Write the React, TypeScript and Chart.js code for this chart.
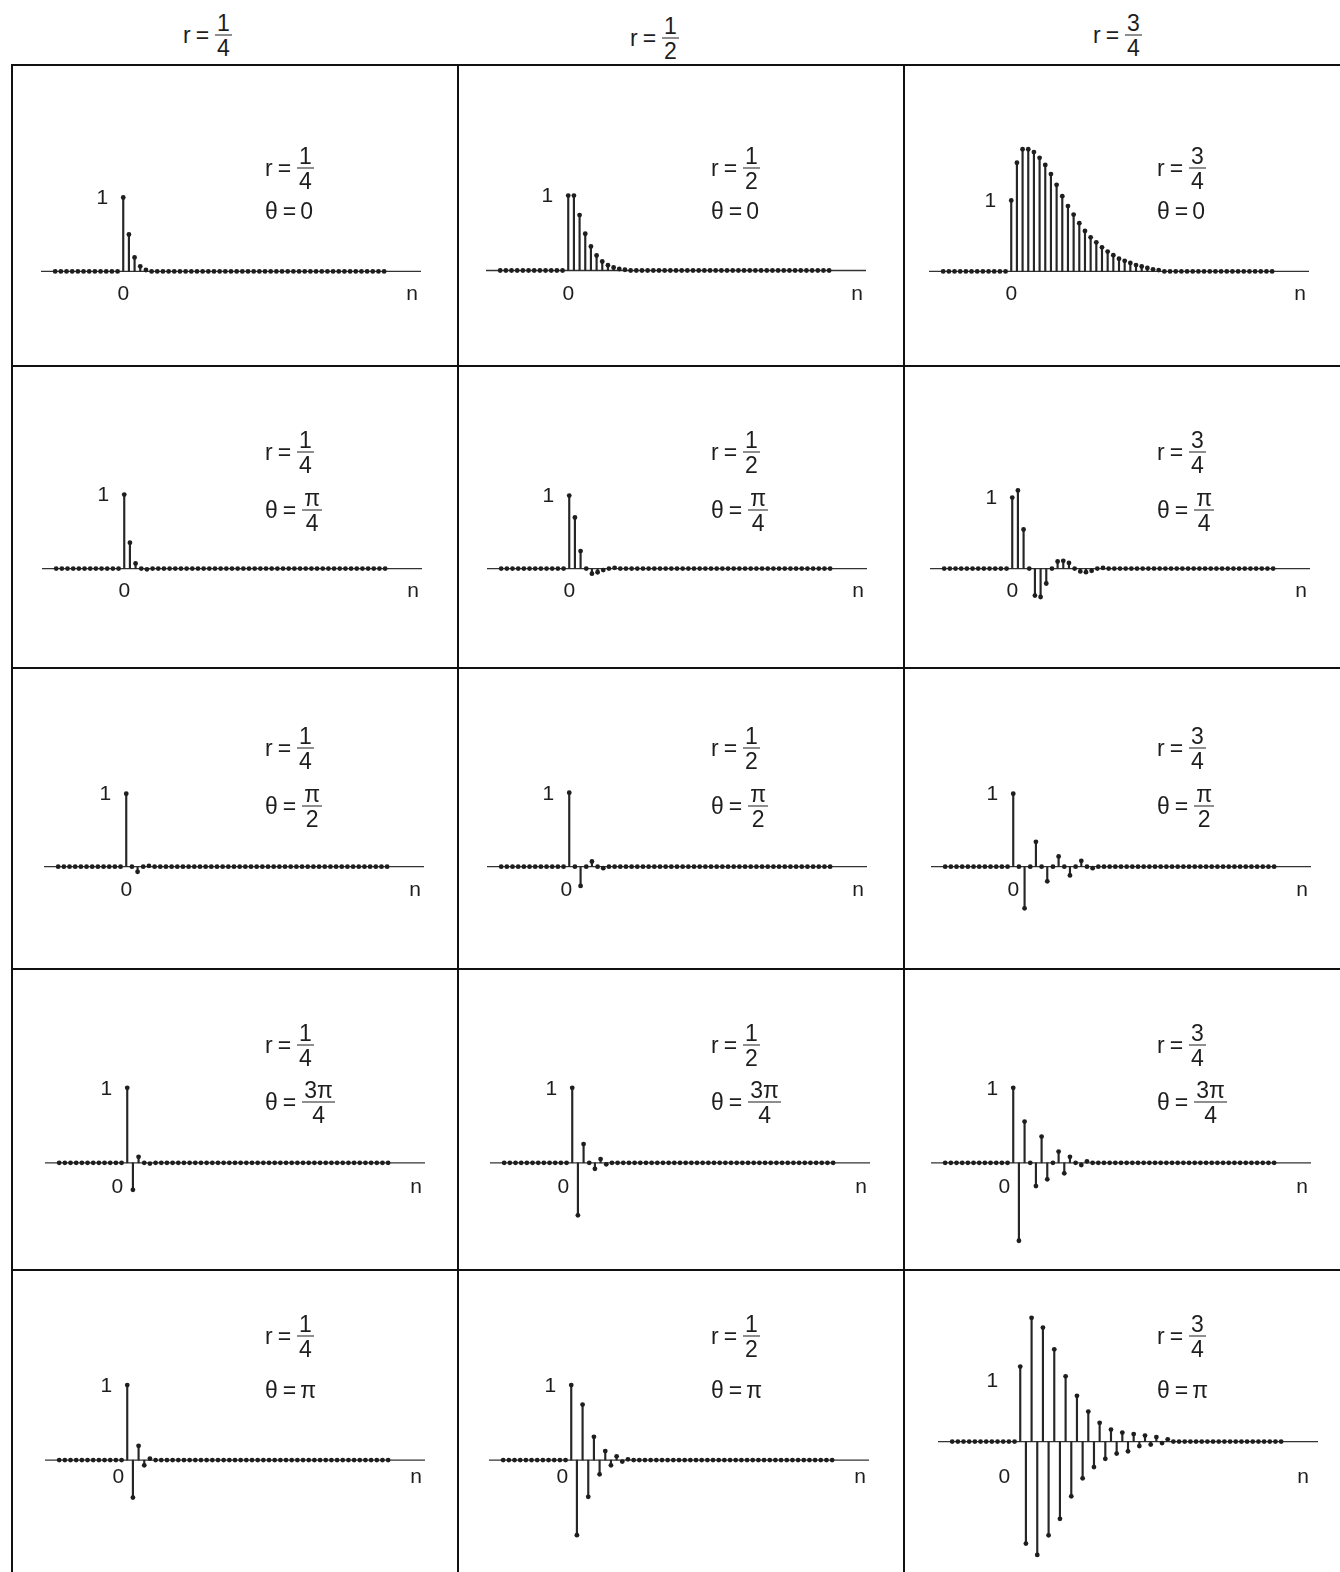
import React, { useEffect, useRef } from "react";
import { Chart, registerables } from "chart.js";

Chart.register(...registerables);

// Sample index range shown on every panel, and the extent of the drawn n-axis.
const N_FIRST = -12;
const N_LAST = 46;
const AXIS_FROM = -14.5;
const AXIS_TO = 52.5;

// Column parameters (pole radius) and row parameters (pole angle).
const R_FRACTIONS: [string, string][] = [["1", "4"], ["1", "2"], ["3", "4"]];
const THETA_LABELS: (string | [string, string])[] = ["0", ["π", "4"], ["π", "2"], ["3π", "4"], "π"];

// h[n] for n = 0, 1, 2, ... ; samples beyond the list are zero.
// r = 1/4
const r14_t0 = [1, 0.5, 0.19, 0.07, 0.02];
const r14_t1 = [1, 0.35, 0.07, 0, -0.01];
const r14_t2 = [1, 0, -0.07, 0, 0.01];
const r14_t3 = [1, -0.36, 0.08, 0, -0.01];
const r14_t4 = [1, -0.5, 0.19, -0.07, 0.02];
// r = 1/2
const r12_t0 = [1, 1, 0.74, 0.49, 0.32, 0.2, 0.12, 0.07, 0.04, 0.02, 0.01];
const r12_t1 = [1, 0.7, 0.24, 0, -0.07, -0.05, -0.02, 0, 0.01];
const r12_t2 = [1, 0, -0.26, 0, 0.07, 0, -0.02];
const r12_t3 = [1, -0.7, 0.25, 0, -0.08, 0.05, -0.02];
const r12_t4 = [1, -1, 0.74, -0.49, 0.31, -0.19, 0.12, -0.07, 0.05, -0.02, 0.01];
// r = 3/4
const r34_t0 = [1, 1.53, 1.72, 1.72, 1.68, 1.6, 1.5, 1.37, 1.22, 1.06, 0.92, 0.8, 0.68, 0.57, 0.48, 0.41, 0.34, 0.28, 0.23, 0.18, 0.15, 0.12, 0.09, 0.07, 0.05, 0.03, 0.02];
const r34_t1 = [1, 1.1, 0.55, 0, -0.38, -0.4, -0.21, 0, 0.1, 0.11, 0.08, 0, -0.04, -0.05, -0.03, 0, 0.01];
const r34_t2 = [1, 0, -0.57, 0, 0.34, 0, -0.2, 0, 0.14, 0, -0.12, 0, 0.08, 0, -0.02];
const r34_t3 = [1, -1.04, 0.55, 0, -0.31, 0.35, -0.22, 0, 0.15, -0.14, 0.08, 0, -0.03, 0.02];
const r34_t4 = [1, -1.36, 1.65, -1.51, 1.52, -1.25, 1.23, -1.03, 0.87, -0.73, 0.61, -0.49, 0.4, -0.34, 0.25, -0.23, 0.16, -0.16, 0.12, -0.13, 0.1, -0.06, 0.08, -0.04, 0.06, -0.02, 0.03];

// rows: θ = 0, π/4, π/2, 3π/4, π ; columns: r = 1/4, 1/2, 3/4
const SERIES = [
  [r14_t0, r12_t0, r34_t0],
  [r14_t1, r12_t1, r34_t1],
  [r14_t2, r12_t2, r34_t2],
  [r14_t3, r12_t3, r34_t3],
  [r14_t4, r12_t4, r34_t4],
];

// ---- page geometry ----
const PAGE_W = 1340;
const PAGE_H = 1572;
const COL_X = [12, 458, 904, PAGE_W];
const ROW_Y = [65, 366, 668, 969, 1270, PAGE_H + 10];
const AXIS_PX = 380;
const AXIS_LEFT = [
  [41, 486, 929],
  [42, 487, 930],
  [44, 487, 931],
  [45, 490, 931],
  [45, 489, 938],
];
const AXIS_Y = [
  [273, 272, 273],
  [570, 570, 570],
  [868, 868, 868],
  [1164, 1164, 1164],
  [1461, 1461, 1442],
];
const UNIT_PX = [
  [76, 77, 73],
  [76, 75, 73],
  [75, 76, 75],
  [77, 77, 77],
  [77, 77, 77],
];
const ZERO_DX = [
  [0, 0, 0],
  [0, 0, 0],
  [0, -3, 0],
  [-10, -9, -9],
  [-9, -9, -16],
];
const BASE_LABEL_Y = [294, 591, 890, 1187, 1477];
const R_NOTE_Y = [168, 452, 748, 1045, 1336];
const T_NOTE_Y = [211, 510, 806, 1102, 1390];
const HEADER_POS = [
  [183, 35],
  [630, 38],
  [1093, 35],
];

const FONT = '"Liberation Sans", Arial, Helvetica, sans-serif';
const INK = "#1e1e1e";

function Frac({ num, den, size }: { num: string; den: string; size: number }) {
  return (
    <span
      style={{
        display: "inline-flex",
        flexDirection: "column",
        alignItems: "center",
        marginLeft: 2,
      }}
    >
      <span style={{ lineHeight: `${size - 1}px`, padding: "0 2px 1px" }}>{num}</span>
      <span
        style={{
          lineHeight: `${size - 1}px`,
          borderTop: `1.6px solid ${INK}`,
          alignSelf: "stretch",
          textAlign: "center",
          padding: "1px 2px 0",
        }}
      >
        {den}
      </span>
    </span>
  );
}

function Expr({
  name,
  value,
  left,
  cy,
  size,
}: {
  name: string;
  value: string | [string, string];
  left: number;
  cy: number;
  size: number;
}) {
  return (
    <div
      style={{
        position: "absolute",
        left,
        top: cy,
        transform: "translateY(-50%)",
        display: "flex",
        alignItems: "center",
        fontSize: size,
        fontFamily: FONT,
        color: INK,
        whiteSpace: "nowrap",
      }}
    >
      <span>{name}</span>
      <span style={{ margin: "0 4px 0 5px" }}>=</span>
      {typeof value === "string" ? (
        <span>{value}</span>
      ) : (
        <Frac num={value[0]} den={value[1]} size={size} />
      )}
    </div>
  );
}

function Panel({ row, col }: { row: number; col: number }) {
  const ref = useRef<HTMLCanvasElement | null>(null);
  const cellLeft = COL_X[col];
  const cellTop = ROW_Y[row];
  const width = COL_X[col + 1] - cellLeft;
  const height = ROW_Y[row + 1] - cellTop;

  useEffect(() => {
    const canvas = ref.current;
    if (!canvas) return;
    const values = SERIES[row][col];
    const unit = UNIT_PX[row][col];
    const axisY = AXIS_Y[row][col];
    const axisLeft = AXIS_LEFT[row][col];

    const stems = values.map((v, n) => ({ x: n, y: v }));
    const dots: { x: number; y: number }[] = [];
    for (let n = N_FIRST; n <= N_LAST; n++) {
      dots.push({ x: n, y: n >= 0 && n < values.length ? values[n] : 0 });
    }

    const special = row === 4 && col === 2;
    const oneDx = special ? -28 : -21;
    const oneDy = special ? 14 : 0;
    const nDx = special ? -15 : -9;

    const labels = {
      id: "stemLabels",
      afterDatasetsDraw(chart: any) {
        const { ctx } = chart;
        const xs = chart.scales.x;
        const ys = chart.scales.y;
        const x0 = xs.getPixelForValue(0);
        ctx.save();
        ctx.font = `21px ${FONT}`;
        ctx.fillStyle = INK;
        ctx.textAlign = "center";
        ctx.textBaseline = "middle";
        ctx.fillText("1", x0 + oneDx, ys.getPixelForValue(1) + oneDy + 1);
        const by = BASE_LABEL_Y[row] - cellTop;
        ctx.fillText("0", x0 + ZERO_DX[row][col], by);
        ctx.fillText("n", xs.getPixelForValue(AXIS_TO) + nDx, by);
        ctx.restore();
      },
    };

    const chart = new Chart(canvas, {
      type: "bar",
      data: {
        datasets: [
          {
            type: "scatter",
            data: dots,
            pointRadius: 2.4,
            pointBackgroundColor: INK,
            pointBorderWidth: 0,
            showLine: false,
          } as any,
          {
            type: "bar",
            data: stems,
            backgroundColor: "#262626",
            borderWidth: 0,
            barThickness: 1.5,
          } as any,
          {
            type: "line",
            data: [
              { x: AXIS_FROM, y: 0 },
              { x: AXIS_TO, y: 0 },
            ],
            borderColor: "#333",
            borderWidth: 1.3,
            pointRadius: 0,
          } as any,
        ],
      },
      options: {
        responsive: false,
        animation: false,
        events: [],
        layout: {
          padding: {
            left: axisLeft - cellLeft,
            right: cellLeft + width - (axisLeft + AXIS_PX),
            top: 0,
            bottom: 0,
          },
        },
        plugins: { legend: { display: false }, tooltip: { enabled: false } },
        scales: {
          x: {
            type: "linear",
            display: false,
            offset: false,
            min: AXIS_FROM,
            max: AXIS_TO,
          },
          y: {
            type: "linear",
            display: false,
            min: -(cellTop + height - axisY) / unit,
            max: (axisY - cellTop) / unit,
          },
        },
      } as any,
      plugins: [labels],
    });
    return () => chart.destroy();
  }, [row, col]);

  return (
    <canvas
      ref={ref}
      width={width}
      height={height}
      style={{ position: "absolute", left: cellLeft, top: cellTop, width, height }}
    />
  );
}

export default function App() {
  const rows = [0, 1, 2, 3, 4];
  const cols = [0, 1, 2];
  return (
    <div
      style={{
        position: "absolute",
        left: 0,
        top: 0,
        width: PAGE_W,
        height: PAGE_H,
        overflow: "hidden",
        background: "#fff",
        fontFamily: FONT,
      }}
    >
      {cols.map((c) => (
        <Expr
          key={`h${c}`}
          name="r"
          value={R_FRACTIONS[c]}
          left={HEADER_POS[c][0]}
          cy={HEADER_POS[c][1]}
          size={23}
        />
      ))}
      {rows.map((r) =>
        cols.map((c) => (
          <React.Fragment key={`p${r}${c}`}>
            <Panel row={r} col={c} />
            <Expr name="r" value={R_FRACTIONS[c]} left={COL_X[c] + 253} cy={R_NOTE_Y[r]} size={23} />
            <Expr name="θ" value={THETA_LABELS[r]} left={COL_X[c] + 253} cy={T_NOTE_Y[r]} size={23} />
          </React.Fragment>
        ))
      )}
      {COL_X.slice(0, 3).map((x) => (
        <div
          key={`v${x}`}
          style={{ position: "absolute", left: x - 1, top: ROW_Y[0] - 1, width: 2.2, height: PAGE_H, background: "#111" }}
        />
      ))}
      {ROW_Y.slice(0, 5).map((y) => (
        <div
          key={`hz${y}`}
          style={{ position: "absolute", left: COL_X[0] - 1, top: y - 1, width: PAGE_W, height: 2.2, background: "#111" }}
        />
      ))}
    </div>
  );
}
